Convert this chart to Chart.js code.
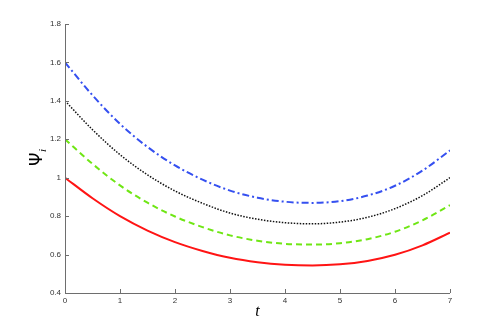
<!DOCTYPE html>
<html>
<head>
<meta charset="utf-8">
<script src="https://cdn.jsdelivr.net/npm/chart.js@4.4.1/dist/chart.umd.min.js"></script>
<style>
  html, body { margin: 0; padding: 0; background: #fff; }
  #wrap { width: 498px; height: 330px; }
</style>
</head>
<body>
<div id="wrap"><canvas id="chart" width="498" height="330"></canvas></div>
<script>
// time samples
const tValues = [0, 0.5, 1, 1.5, 2, 2.5, 3, 3.5, 4, 4.5, 5, 5.5, 6, 6.5, 7];
// psi curves
const psiRed   = [1.000, 0.893, 0.800, 0.725, 0.665, 0.619, 0.583, 0.560, 0.547, 0.543, 0.549, 0.567, 0.599, 0.648, 0.714];
const psiGreen = [1.200, 1.072, 0.960, 0.870, 0.798, 0.743, 0.700, 0.672, 0.656, 0.652, 0.659, 0.680, 0.719, 0.778, 0.857];
const psiBlack = [1.400, 1.250, 1.120, 1.015, 0.931, 0.867, 0.816, 0.784, 0.766, 0.760, 0.769, 0.794, 0.839, 0.907, 1.000];
const psiBlue  = [1.600, 1.429, 1.280, 1.160, 1.064, 0.990, 0.933, 0.896, 0.875, 0.869, 0.878, 0.907, 0.958, 1.037, 1.142];
const xTicks = [0, 1, 2, 3, 4, 5, 6, 7];
const yTicks = [0.4, 0.6, 0.8, 1, 1.2, 1.4, 1.6, 1.8];

const axisColor = '#6e6e6e';
const labelFont = { family: 'Liberation Sans', size: 8 };

function toPoints(ys) {
  return tValues.map((t, i) => ({ x: t, y: ys[i] }));
}

function series(ys, color, dash, width) {
  return {
    data: toPoints(ys),
    borderColor: color,
    borderWidth: width,
    borderDash: dash,
    pointRadius: 0,
    fill: false,
    cubicInterpolationMode: 'monotone'
  };
}

// MATLAB style axes: two axis lines, ticks pointing inward, titles
const axesPlugin = {
  id: 'axesPlugin',
  afterDraw(chart) {
    const ctx = chart.ctx;
    const a = chart.chartArea;
    const xs = chart.scales.x, ys = chart.scales.y;
    ctx.save();
    ctx.strokeStyle = axisColor;
    ctx.lineWidth = 1;
    ctx.beginPath();
    ctx.moveTo(Math.round(a.left) + 0.5, a.top);
    ctx.lineTo(Math.round(a.left) + 0.5, Math.round(a.bottom) + 0.5);
    ctx.lineTo(a.right, Math.round(a.bottom) + 0.5);
    for (const v of xTicks) {
      const px = Math.round(xs.getPixelForValue(v)) + 0.5;
      ctx.moveTo(px, a.bottom);
      ctx.lineTo(px, a.bottom - 4);
    }
    for (const v of yTicks) {
      const py = Math.round(ys.getPixelForValue(v)) + 0.5;
      ctx.moveTo(a.left, py);
      ctx.lineTo(a.left + 4, py);
    }
    ctx.stroke();

    // x title
    ctx.fillStyle = '#000';
    ctx.font = 'italic 16px "Liberation Serif"';
    ctx.textAlign = 'center';
    ctx.textBaseline = 'middle';
    ctx.fillText('t', (a.left + a.right) / 2, 312);

    // y title, rotated, with subscript
    ctx.translate(38, 158);
    ctx.rotate(-Math.PI / 2);
    ctx.textAlign = 'left';
    ctx.font = '17px "DejaVu Sans"';
    ctx.fillText('\u03A8', -8, 0);
    ctx.font = 'italic 11px "Liberation Serif"';
    ctx.fillText('i', 6, 5);
    ctx.restore();
  }
};

new Chart(document.getElementById('chart'), {
  type: 'line',
  data: {
    datasets: [
      series(psiRed, '#ff1414', [], 2),
      series(psiGreen, '#6fe614', [6, 4], 2),
      series(psiBlack, '#111111', [1.5, 1.5], 1.5),
      series(psiBlue, '#3550f0', [7, 3, 2, 3], 2)
    ]
  },
  options: {
    responsive: false,
    animation: false,
    layout: { padding: { left: 0, right: 48, top: 24, bottom: 0 } },
    plugins: { legend: { display: false }, tooltip: { enabled: false } },
    scales: {
      x: {
        type: 'linear',
        min: 0, max: 7,
        border: { display: false },
        grid: { display: false, drawTicks: false },
        afterBuildTicks: s => { s.ticks = xTicks.map(v => ({ value: v })); },
        afterFit: s => { s.height = 37; },
        ticks: { color: '#333', font: labelFont, padding: 3, maxRotation: 0, callback: v => String(v) }
      },
      y: {
        min: 0.4, max: 1.8,
        border: { display: false },
        grid: { display: false, drawTicks: false },
        afterBuildTicks: s => { s.ticks = yTicks.map(v => ({ value: v })); },
        afterFit: s => { s.width = 65; },
        ticks: { color: '#333', font: labelFont, padding: 4, callback: v => String(Math.round(v * 10) / 10) }
      }
    }
  },
  plugins: [axesPlugin]
});
</script>
</body>
</html>
